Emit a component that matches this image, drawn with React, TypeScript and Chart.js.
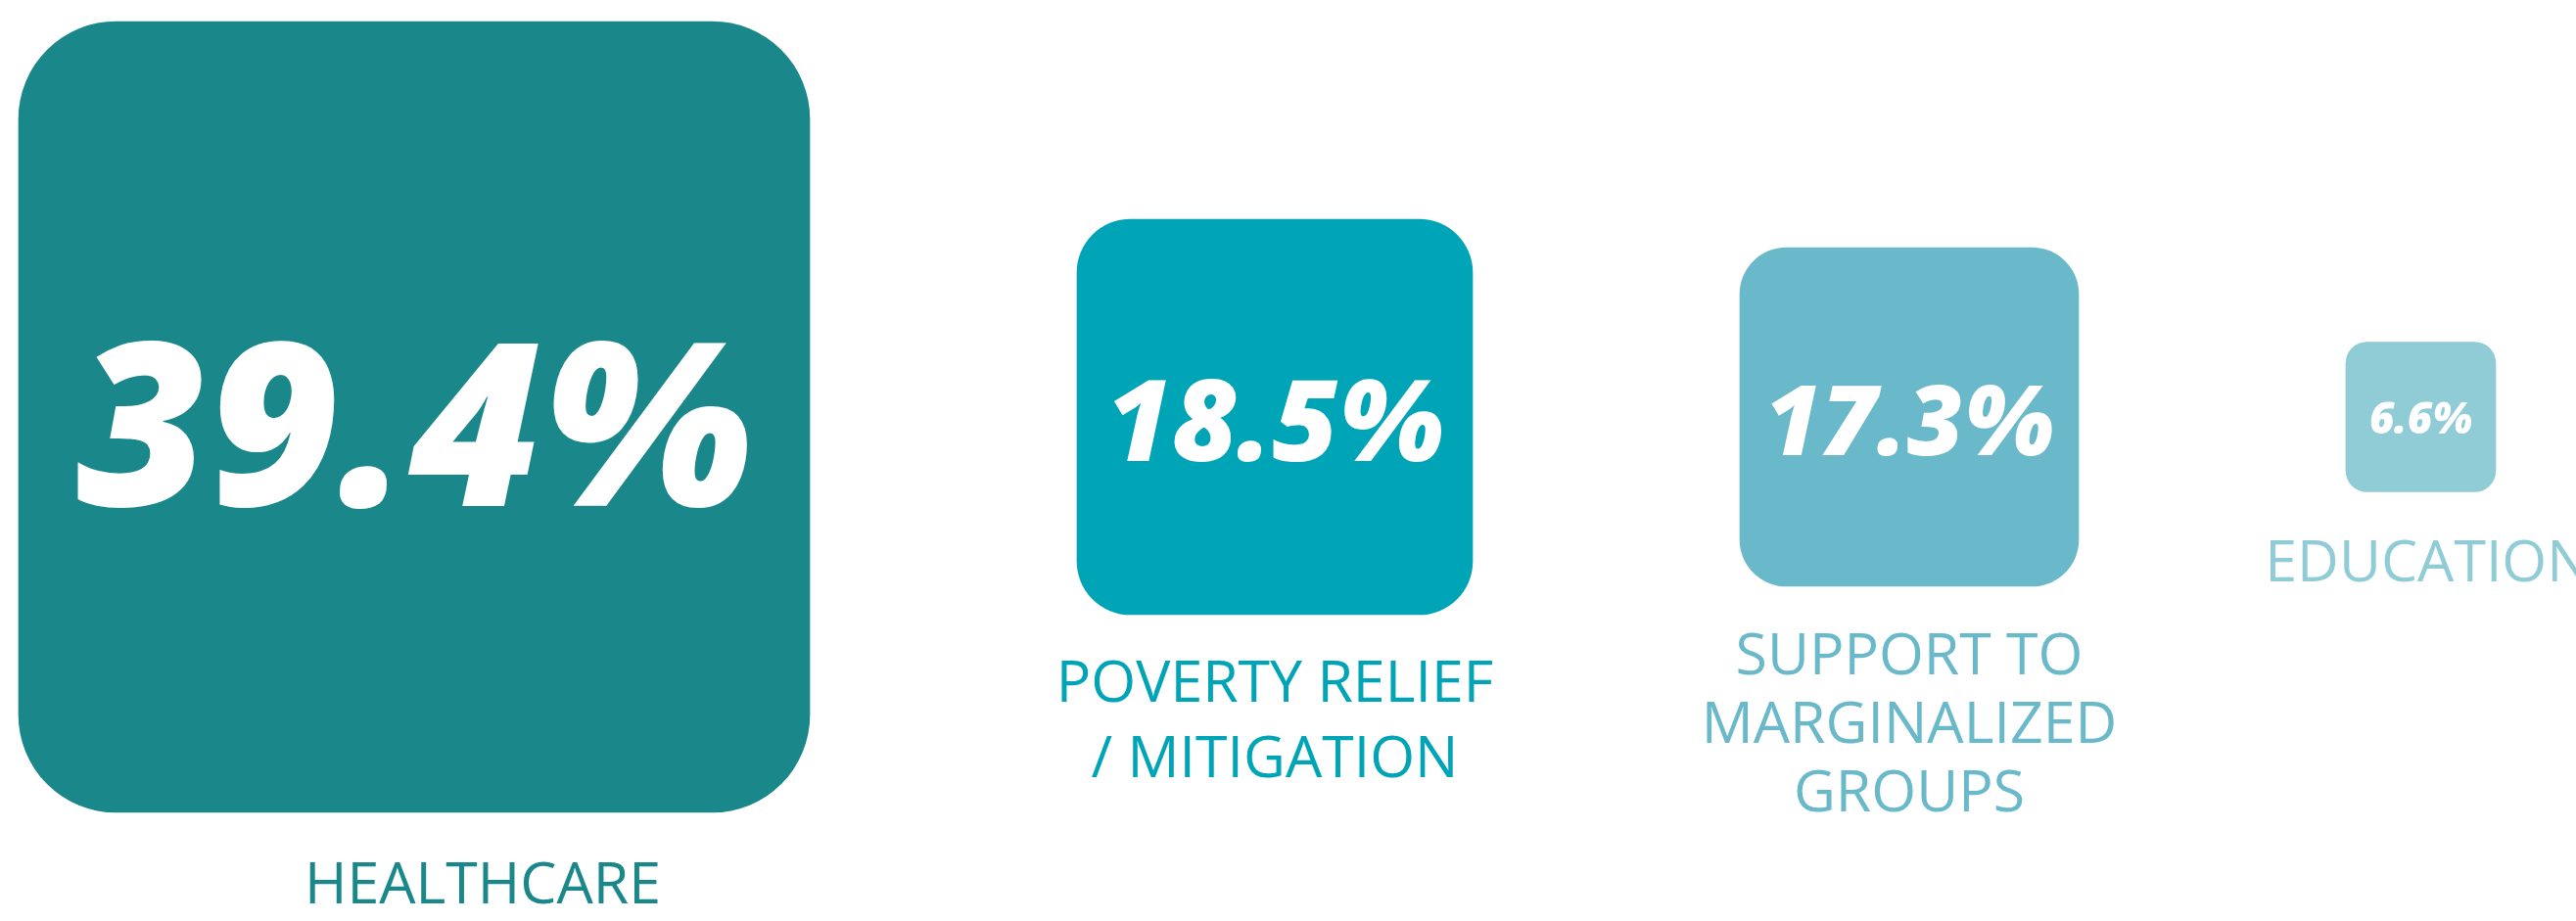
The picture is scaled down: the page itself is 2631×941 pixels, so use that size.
import React, { useEffect, useRef } from "react";
import { Chart, registerables } from "chart.js";

Chart.register(...registerables);

// ---- data ----
const categories = [
  "HEALTHCARE",
  "POVERTY RELIEF / MITIGATION",
  "SUPPORT TO MARGINALIZED GROUPS",
  "EDUCATION",
];
const labelLines = [
  ["HEALTHCARE"],
  ["POVERTY RELIEF", "/ MITIGATION"],
  ["SUPPORT TO", "MARGINALIZED", "GROUPS"],
  ["EDUCATION"],
];
const shares = [39.4, 18.5, 17.3, 6.6];
// extent of each square on the hidden value axis (axis units)
const squareExtent = [808, 404, 346, 153];

// ---- layout / style ----
const W = 2631;
const H = 941;
const colors = ["#1A878A", "#00A4B7", "#69B9CB", "#8FCCD6"];
const cornerRadius = [100, 55, 48, 22];
const leftMargin = 19;
const gap = 273;
const midLine = 426;
const labelDx = [70, 0, 0, 7];
const labelGap = [51, 47, 48, 49];
const labelLineH = [72, 77, 70, 72];
const labelFont = 59;

function centersFrom(extents: number[]) {
  const out: number[] = [];
  let left = leftMargin;
  extents.forEach((s) => {
    out.push(left + s / 2);
    left += s + gap;
  });
  return out;
}

const boxTextPlugin = {
  id: "boxText",
  afterDatasetsDraw(chart: any) {
    const ctx = chart.ctx as CanvasRenderingContext2D;
    chart.data.datasets.forEach((_ds: any, i: number) => {
      const meta = chart.getDatasetMeta(i);
      const el = meta.data[0];
      if (!el) return;
      const p = el.getProps(["x", "y", "base", "width"], true);
      const top = Math.min(p.y, p.base);
      const bottom = Math.max(p.y, p.base);
      const side = bottom - top;
      const cy = (top + bottom) / 2;
      const fs = side * 0.287;
      ctx.save();
      ctx.textAlign = "center";
      ctx.textBaseline = "alphabetic";
      ctx.fillStyle = "#FFFFFF";
      ctx.font = `italic 800 ${fs}px "Open Sans"`;
      ctx.fillText(`${shares[i].toFixed(1)}%`, p.x, cy + fs * 0.357 + side * 0.01);
      ctx.fillStyle = colors[i];
      ctx.font = `400 ${labelFont}px "Open Sans"`;
      labelLines[i].forEach((ln, j) => {
        ctx.fillText(ln, p.x + labelDx[i], bottom + labelGap[i] + labelFont * 0.714 + j * labelLineH[i]);
      });
      ctx.restore();
    });
  },
};

export default function App() {
  const ref = useRef<HTMLCanvasElement>(null);
  useEffect(() => {
    document.body.style.margin = "0";
    const centers = centersFrom(squareExtent);
    const chart = new Chart(ref.current as HTMLCanvasElement, {
      type: "bar",
      data: {
        datasets: categories.map((c, i) => ({
          label: c,
          data: [
            {
              x: centers[i],
              y: [midLine - squareExtent[i] / 2, midLine + squareExtent[i] / 2],
            },
          ],
          backgroundColor: colors[i],
          borderRadius: cornerRadius[i],
          borderSkipped: false,
          borderWidth: 0,
          barThickness: squareExtent[i],
          grouped: false,
        })) as any,
      },
      options: {
        responsive: false,
        animation: false,
        devicePixelRatio: 1,
        layout: { padding: 0 },
        plugins: { legend: { display: false }, tooltip: { enabled: false } },
        scales: {
          x: { type: "linear", display: false, min: 0, max: W, offset: false },
          y: { type: "linear", display: false, min: 0, max: H, reverse: true },
        },
      },
      plugins: [boxTextPlugin],
    });
    return () => chart.destroy();
  }, []);
  return (
    <div style={{ position: "fixed", left: 0, top: 0, width: W, height: H, background: "#FFFFFF" }}>
      <canvas ref={ref} width={W} height={H} style={{ display: "block", width: W, height: H }} />
    </div>
  );
}
